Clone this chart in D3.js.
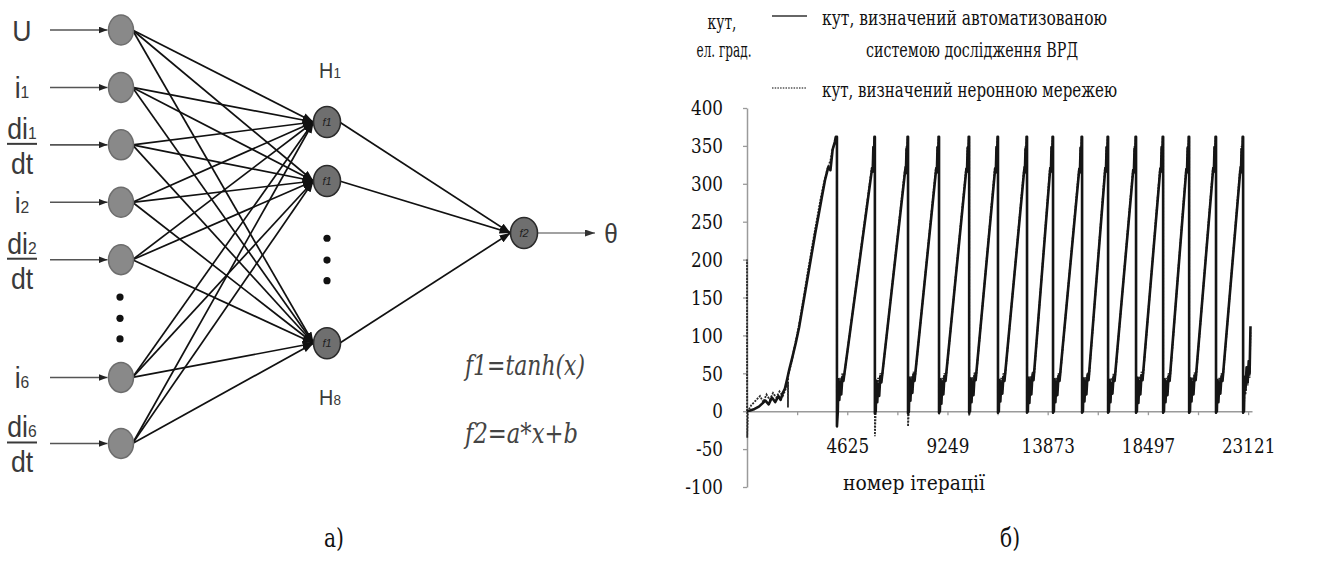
<!DOCTYPE html>
<html>
<head>
<meta charset="utf-8">
<script src="https://cdn.jsdelivr.net/npm/d3@7"></script>
<style>
  html, body { margin: 0; padding: 0; background: #fff; }
  svg { display: block; }
</style>
</head>
<body>
<svg id="fig" width="1343" height="564"></svg>
<script>
// ---------- panel а): network structure ----------
const inputNames = [
  { main: "U" },
  { main: "i", sub: "1" },
  { main: "di", sub: "1", den: "dt" },
  { main: "i", sub: "2" },
  { main: "di", sub: "2", den: "dt" },
  { main: "i", sub: "6" },
  { main: "di", sub: "6", den: "dt" }
];
const hiddenNames = [
  { main: "H", sub: "1", above: true },
  null,
  { main: "H", sub: "8", above: false }
];
const hiddenFn = "f1";
const outputFn = "f2";
const outputName = "θ";
const formulas = ["f1=tanh(x)", "f2=a*x+b"];
const panelCaptions = ["а)", "б)"];

// ---------- panel б): rotor angle vs iteration ----------
const yTicks = [-100, -50, 0, 50, 100, 150, 200, 250, 300, 350, 400];
const xTickMarks = [2313, 4625, 6937, 9249, 11561, 13873, 16185, 18497, 20809, 23121];
const xTickLabels = [4625, 9249, 13873, 18497, 23121];
const yTitle = ["кут,", "ел. град."];
const xTitle = "номер ітерації";
const legendSolid = ["кут, визначений автоматизованою", "системою дослідження ВРД"];
const legendDotted = "кут, визначений неронною мережею";

// angle measured by the test system: [iteration, degrees]
const measuredAngle = [
  [0,0],[150,1],[350,3],[550,6],[700,10],[850,14],[1000,9],[1150,18],[1300,12],[1450,20],[1550,15],[1650,24],
  [1750,30],[1850,42],[1950,55],[2100,72],[2250,90],[2400,110],[2550,135],[2700,160],[2850,185],[3000,210],
  [3150,235],[3300,258],[3450,282],[3600,305],[3750,322],[3850,318],[3950,345],[4050,355],[4100,362],[4150,362],[4150,-20],
  [4190,0],[4220,42],[4260,15],[4300,38],[4350,22],[4400,45],[4450,40],[5770,320],[5800,316],[5830,348],[5860,335],[5880,362],[5900,362],[5900,-3],
  [5940,0],[5970,40],[6010,12],[6050,36],[6100,20],[6150,46],[6200,38],[7300,318],[7330,314],[7360,346],[7390,332],[7410,362],[7430,362],[7430,-3],
  [7470,0],[7500,44],[7540,14],[7580,40],[7630,24],[7680,48],[7730,40],[8730,320],[8760,315],[8790,348],[8820,334],[8840,362],[8860,362],[8860,-2],
  [8900,0],[8930,42],[8970,10],[9010,38],[9060,22],[9110,46],[9160,40],[10120,319],[10150,316],[10180,347],[10210,333],[10230,362],[10250,362],[10250,-2],
  [10290,0],[10320,43],[10360,12],[10400,39],[10450,21],[10500,47],[10550,41],[11450,320],[11480,315],[11510,348],[11540,334],[11560,362],[11580,362],[11580,-2],
  [11620,0],[11650,41],[11690,13],[11730,37],[11780,23],[11830,45],[11880,40],[12790,318],[12820,315],[12850,346],[12880,333],[12900,362],[12920,362],[12920,-2],
  [12960,0],[12990,44],[13030,11],[13070,40],[13120,22],[13170,47],[13220,41],[13990,320],[14020,316],[14050,348],[14080,334],[14100,362],[14120,362],[14120,-2],
  [14160,0],[14190,42],[14230,12],[14270,38],[14320,21],[14370,46],[14420,40],[15330,319],[15360,315],[15390,347],[15420,333],[15440,362],[15460,362],[15460,-2],
  [15500,0],[15530,43],[15570,13],[15610,39],[15660,22],[15710,47],[15760,41],[16530,320],[16560,316],[16590,348],[16620,334],[16640,362],[16660,362],[16660,-2],
  [16700,0],[16730,41],[16770,12],[16810,37],[16860,23],[16910,45],[16960,40],[17820,318],[17850,315],[17880,346],[17910,333],[17930,362],[17950,362],[17950,-2],
  [17990,0],[18020,44],[18060,11],[18100,40],[18150,22],[18200,47],[18250,41],[19070,320],[19100,316],[19130,348],[19160,334],[19180,362],[19200,362],[19200,-2],
  [19240,0],[19270,42],[19310,12],[19350,38],[19400,21],[19450,46],[19500,40],[20270,319],[20300,315],[20330,347],[20360,333],[20380,362],[20400,362],[20400,-2],
  [20440,0],[20470,43],[20510,13],[20550,39],[20600,22],[20650,47],[20700,41],[21510,320],[21540,316],[21570,348],[21600,334],[21620,362],[21640,362],[21640,-2],
  [21680,0],[21710,41],[21750,12],[21790,37],[21840,23],[21890,45],[21940,40],[22760,318],[22790,315],[22820,346],[22850,333],[22870,362],[22890,362],[22890,-2],
  [22930,0],[22960,45],[23000,28],[23050,58],[23100,38],[23150,66],[23190,50],[23230,112]
];

// angle estimated by the neural network: [iteration, degrees]
const networkAngle = [
  [0,0],[0,200],[10,-35],[40,0],[200,8],[400,14],[600,20],[750,12],[900,22],[1050,15],[1200,24],[1350,18],
  [1500,26],[1650,20],[1800,30],[1890,38],[1890,5],[1900,48],[2050,64],[2200,86],[2350,106],[2500,130],[2650,156],
  [2800,183],[2950,208],[3100,233],[3250,257],[3400,281],[3550,301],[3700,319],[3850,331],[3950,346],[4050,353],[4100,362],[4150,362],[4150,-12],
  [4190,2],[4220,30],[4260,18],[4300,44],[4350,30],[4400,50],[4470,44],[5760,322],[5800,318],[5830,350],[5860,338],[5885,362],[5900,362],[5900,-33],
  [5940,2],[5970,30],[6010,20],[6050,44],[6100,28],[6150,50],[6220,42],[7290,320],[7330,318],[7360,350],[7390,336],[7415,362],[7430,362],[7430,-20],
  [7470,2],[7500,32],[7540,20],[7580,46],[7630,28],[7680,52],[7750,44],[8720,322],[8760,318],[8790,350],[8820,336],[8845,362],[8860,362],[8860,-4],
  [8900,2],[8930,30],[8970,18],[9010,44],[9060,28],[9110,50],[9180,44],[10110,321],[10150,318],[10180,350],[10210,336],[10235,362],[10250,362],[10250,-6],
  [10290,2],[10320,31],[10360,19],[10400,45],[10450,27],[10500,51],[10570,45],[11440,322],[11480,318],[11510,350],[11540,336],[11565,362],[11580,362],[11580,-3],
  [11620,2],[11650,30],[11690,20],[11730,44],[11780,28],[11830,50],[11900,44],[12780,320],[12820,318],[12850,350],[12880,336],[12905,362],[12920,362],[12920,-3],
  [12960,2],[12990,32],[13030,18],[13070,46],[13120,28],[13170,52],[13240,45],[13980,322],[14020,318],[14050,350],[14080,336],[14105,362],[14120,362],[14120,-3],
  [14160,2],[14190,30],[14230,19],[14270,44],[14320,27],[14370,50],[14440,44],[15320,321],[15360,318],[15390,350],[15420,336],[15445,362],[15460,362],[15460,-3],
  [15500,2],[15530,31],[15570,20],[15610,45],[15660,28],[15710,51],[15780,45],[16520,322],[16560,318],[16590,350],[16620,336],[16645,362],[16660,362],[16660,-3],
  [16700,2],[16730,30],[16770,18],[16810,44],[16860,28],[16910,50],[16980,44],[17810,320],[17850,318],[17880,350],[17910,336],[17935,362],[17950,362],[17950,-3],
  [17990,2],[18020,32],[18060,19],[18100,46],[18150,27],[18200,52],[18270,45],[19060,322],[19100,318],[19130,350],[19160,336],[19185,362],[19200,362],[19200,-3],
  [19240,2],[19270,30],[19310,20],[19350,44],[19400,28],[19450,50],[19520,44],[20260,321],[20300,318],[20330,350],[20360,336],[20385,362],[20400,362],[20400,-3],
  [20440,2],[20470,31],[20510,18],[20550,45],[20600,28],[20650,51],[20720,45],[21500,322],[21540,318],[21570,350],[21600,336],[21625,362],[21640,362],[21640,-3],
  [21680,2],[21710,30],[21750,19],[21790,44],[21840,27],[21890,50],[21960,44],[22750,320],[22790,318],[22820,350],[22850,336],[22875,362],[22890,362],[22890,-3],
  [22930,2],[22960,38],[23000,22],[23050,52],[23100,34],[23150,60],[23190,44],[23230,104]
];

const svg = d3.select("#fig");
const defs = svg.append("defs");

// arrowheads
function marker(id, w, h, color) {
  defs.append("marker")
    .attr("id", id)
    .attr("viewBox", `0 0 ${w} ${h}`)
    .attr("refX", w).attr("refY", h / 2)
    .attr("markerWidth", w).attr("markerHeight", h)
    .attr("markerUnits", "userSpaceOnUse")
    .attr("orient", "auto")
    .append("path")
    .attr("d", `M0,0 L${w},${h / 2} L0,${h} Z`)
    .attr("fill", color);
}
marker("arrHidden", 11, 8, "#111");
marker("arrIn", 9, 7, "#222");
marker("arrOut", 10, 7, "#333");

const sansFont = "'Liberation Sans', Arimo, sans-serif";
const serifFont = "'DejaVu Serif', serif";

// condensed text helper
function label(g, x, y, sx, anchor) {
  return g.append("text")
    .attr("transform", `translate(${x},${y}) scale(${sx},1)`)
    .attr("text-anchor", anchor || "middle");
}
// serif text squeezed to a given width
function fitted(g, x, y, width, size, anchor, str) {
  return g.append("text")
    .attr("x", x).attr("y", y)
    .attr("text-anchor", anchor)
    .attr("font-family", serifFont).attr("font-size", size).attr("fill", "#111")
    .attr("textLength", width).attr("lengthAdjust", "spacingAndGlyphs")
    .text(str);
}

// ===== panel а =====
const A = svg.append("g");

const col = { input: 121, hidden: 327, output: 524, label: 22 };
const inputSlots = [0, 1, 2, 3, 4, 6.05, 7.2];
const inputY = d3.scaleLinear().domain([0, 7]).range([30, 432]);
const hiddenSlots = [0, 1, 3.75];
const hiddenY = d3.scaleLinear().domain([0, 1]).range([122, 181]);
const outY = 233;
const nodeR = { x: 12.5, y: 15 };
const hidR = { x: 13.5, y: 15.5 };

const inputs = inputNames.map((d, i) => ({ ...d, y: inputY(inputSlots[i]) }));
const hiddens = hiddenNames.map((d, i) => ({ name: d, y: hiddenY(hiddenSlots[i]) }));

// input -> hidden connections
const links = [];
inputs.forEach(a => hiddens.forEach(h => links.push({ a, h })));
A.append("g").selectAll("line").data(links).join("line")
  .attr("x1", d => col.input + nodeR.x - 1).attr("y1", d => d.a.y)
  .attr("x2", col.hidden - hidR.x).attr("y2", d => d.h.y)
  .attr("stroke", "#111").attr("stroke-width", 1.7)
  .attr("marker-end", "url(#arrHidden)");

// hidden -> output connections
A.append("g").selectAll("line").data(hiddens).join("line")
  .attr("x1", col.hidden + hidR.x - 1).attr("y1", d => d.y)
  .attr("x2", col.output - hidR.x).attr("y2", outY)
  .attr("stroke", "#111").attr("stroke-width", 1.7)
  .attr("marker-end", "url(#arrHidden)");

// input feed arrows
A.append("g").selectAll("line").data(inputs).join("line")
  .attr("x1", 50).attr("y1", d => d.y)
  .attr("x2", col.input - nodeR.x - 1).attr("y2", d => d.y)
  .attr("stroke", "#555").attr("stroke-width", 1.6)
  .attr("marker-end", "url(#arrIn)");

// output arrow
A.append("line")
  .attr("x1", col.output + hidR.x).attr("y1", outY)
  .attr("x2", 595).attr("y2", outY)
  .attr("stroke", "#444").attr("stroke-width", 1.2)
  .attr("marker-end", "url(#arrOut)");

// input neurons
A.append("g").selectAll("ellipse").data(inputs).join("ellipse")
  .attr("cx", col.input).attr("cy", d => d.y)
  .attr("rx", nodeR.x).attr("ry", nodeR.y)
  .attr("fill", "#898989").attr("stroke", "#6d6d6d").attr("stroke-width", 1.5);

// hidden + output neurons
const fnNodes = hiddens.map(h => ({ x: col.hidden, y: h.y, fn: hiddenFn }))
  .concat([{ x: col.output, y: outY, fn: outputFn }]);
const fnG = A.append("g").selectAll("g").data(fnNodes).join("g");
fnG.append("ellipse")
  .attr("cx", d => d.x).attr("cy", d => d.y)
  .attr("rx", hidR.x).attr("ry", hidR.y)
  .attr("fill", "#6f6f6f").attr("stroke", "#2b2b2b").attr("stroke-width", 1.6);
fnG.append("text")
  .attr("x", d => d.x).attr("y", d => d.y + 4)
  .attr("text-anchor", "middle")
  .attr("font-family", sansFont).attr("font-style", "italic")
  .attr("font-size", 11).attr("fill", "#1e1e1e")
  .text(d => d.fn);

// ellipsis dots
const dotsIn = [4.65, 5.02, 5.38].map(s => inputY(s));
const dotsHid = [1.97, 2.34, 2.69].map(s => hiddenY(s));
A.append("g").selectAll("circle").data(dotsIn).join("circle")
  .attr("cx", col.input - 1).attr("cy", d => d).attr("r", 3.6).attr("fill", "#111");
A.append("g").selectAll("circle").data(dotsHid).join("circle")
  .attr("cx", col.hidden).attr("cy", d => d).attr("r", 3.6).attr("fill", "#111");

// input labels
const labelColor = "#3a3a3a";
const labelSquash = 0.92;
inputs.forEach(d => {
  if (d.den) {
    const barY = d.y - 1;
    A.append("line").attr("x1", 7).attr("x2", 37).attr("y1", barY).attr("y2", barY)
      .attr("stroke", labelColor).attr("stroke-width", 2);
    const t = label(A, col.label, barY - 5, labelSquash)
      .attr("font-family", sansFont).attr("font-size", 29).attr("fill", labelColor);
    t.append("tspan").text(d.main);
    t.append("tspan").attr("font-size", 17).text(d.sub);
    label(A, col.label, barY + 30, labelSquash)
      .attr("font-family", sansFont).attr("font-size", 29).attr("fill", labelColor)
      .text(d.den);
  } else {
    const t = label(A, col.label, d.y + 11, labelSquash)
      .attr("font-family", sansFont).attr("font-size", 29).attr("fill", labelColor);
    t.append("tspan").text(d.main);
    if (d.sub) t.append("tspan").attr("font-size", 17).text(d.sub);
  }
});

// hidden layer labels
hiddens.forEach(h => {
  if (!h.name) return;
  const yy = h.name.above ? h.y - 44 : h.y + 62;
  const t = label(A, col.hidden + 3, yy, 0.9)
    .attr("font-family", sansFont).attr("font-size", 22).attr("fill", labelColor);
  t.append("tspan").text(h.name.main);
  t.append("tspan").attr("font-size", 15).text(h.name.sub);
});

// output symbol
label(A, 611, outY + 10, 0.9)
  .attr("font-family", sansFont).attr("font-size", 27).attr("fill", labelColor)
  .text(outputName);

// activation formulas
const formulaWidth = [120, 113];
formulas.forEach((f, i) => {
  fitted(A, 465, 375 + i * 68, formulaWidth[i], 27, "start", f)
    .attr("font-style", "italic").attr("fill", "#444");
});

// ===== panel б =====
const B = svg.append("g");
const x = d3.scaleLinear().domain([0, 23300]).range([747, 1252]);
const y = d3.scaleLinear().domain([-100, 400]).range([487, 108]);
const axisColor = "#9a9a9a";
const tickSquash = 0.8;

const yAxis = B.append("g").attr("transform", `translate(${x(0)},0)`)
  .call(d3.axisLeft(y).tickValues(yTicks).tickSizeInner(4).tickSizeOuter(0).tickPadding(20)
    .tickFormat(v => String(v)));
const xAxis = B.append("g").attr("transform", `translate(0,${y(0)})`)
  .call(d3.axisBottom(x).tickValues(xTickMarks).tickSizeInner(4).tickSizeOuter(0).tickPadding(23)
    .tickFormat(v => xTickLabels.includes(v) ? String(v) : ""));
[yAxis, xAxis].forEach(g => {
  g.attr("font-family", serifFont);
  g.select(".domain").attr("stroke", axisColor).attr("stroke-width", 1.5);
  g.selectAll(".tick line").attr("stroke", axisColor).attr("stroke-width", 1.3);
  g.selectAll(".tick text").attr("fill", "#111")
    .attr("font-family", serifFont).attr("font-size", 21);
});
// condense tick numerals while keeping their anchor points
yAxis.selectAll(".tick text")
  .attr("x", -24 / tickSquash)
  .attr("transform", `scale(${tickSquash},1)`);
xAxis.selectAll(".tick text")
  .attr("transform", `scale(${tickSquash},1)`);

// series
const line = d3.line().x(d => x(d[0])).y(d => y(d[1]));
B.append("path").datum(networkAngle)
  .attr("d", line).attr("fill", "none")
  .attr("stroke", "#2a2a2a").attr("stroke-width", 1.8)
  .attr("stroke-dasharray", "2,1.2");
B.append("path").datum(measuredAngle)
  .attr("d", line).attr("fill", "none")
  .attr("stroke", "#151515").attr("stroke-width", 2.6)
  .attr("stroke-linejoin", "round");

// axis titles
fitted(B, 722, 29, 29, 20, "middle", yTitle[0]);
fitted(B, 724, 57, 55, 20, "middle", yTitle[1]);
fitted(B, 914, 490, 142, 20, "middle", xTitle);

// legend
B.append("line").attr("x1", 772).attr("x2", 807).attr("y1", 16).attr("y2", 16)
  .attr("stroke", "#666").attr("stroke-width", 2.2);
B.append("line").attr("x1", 772).attr("x2", 807).attr("y1", 88).attr("y2", 88)
  .attr("stroke", "#555").attr("stroke-width", 1.6).attr("stroke-dasharray", "1.5,1.2");
fitted(B, 822, 25, 285, 20, "start", legendSolid[0]);
fitted(B, 866, 57, 212, 20, "start", legendSolid[1]);
fitted(B, 822, 97, 295, 20, "start", legendDotted);

// panel captions
const captionX = [334, 1010];
panelCaptions.forEach((c, i) => {
  fitted(svg, captionX[i], 547, 20, 26, "middle", c);
});
</script>
</body>
</html>
